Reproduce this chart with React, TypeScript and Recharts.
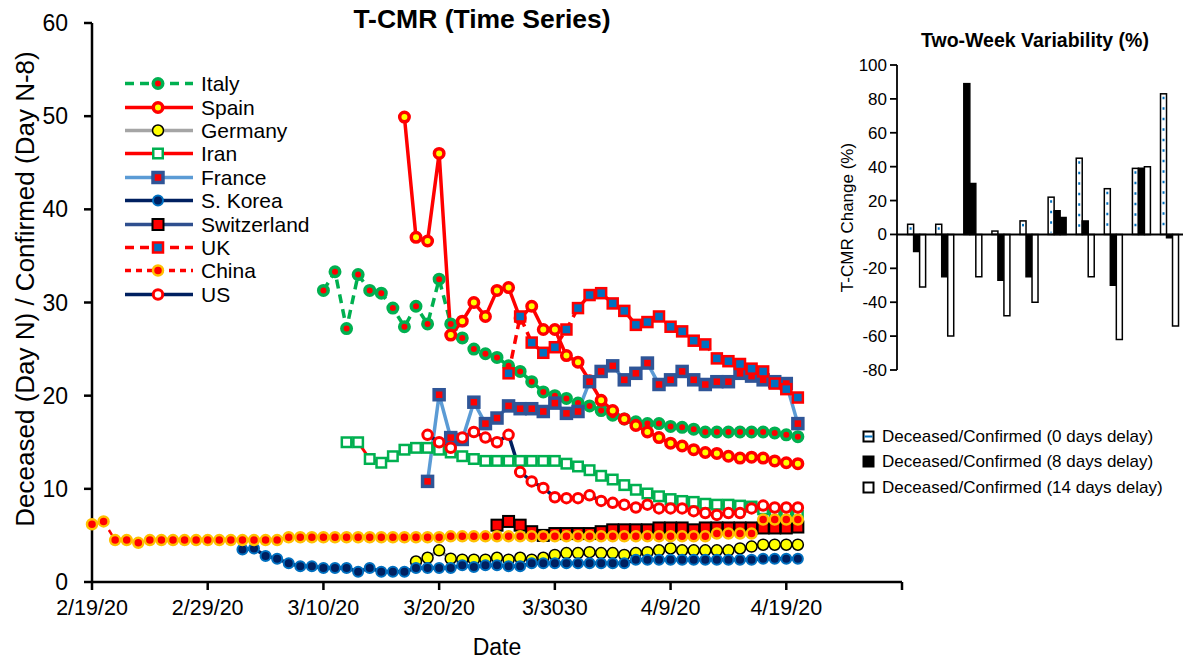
import React from 'react';
import { LineChart, Line, XAxis, YAxis, BarChart, Bar, Cell, ReferenceLine } from 'recharts';

const FONT = '"Liberation Sans", Arial, Helvetica, sans-serif';

// x axis: day index counted from 2/19/20
const dateTicks = [0, 10, 20, 30, 40, 50, 60, 70];
const dateLabels = ['2/19/20', '2/29/20', '3/10/20', '3/20/20', '3/3030', '4/9/20', '4/19/20', ''];
const rateTicks = [0, 10, 20, 30, 40, 50, 60];

// T-CMR values, one per day starting at the given day index
const italyStart = 20;
const italy = [31.3, 33.3, 27.2, 33.0, 31.3, 31.0, 29.4, 27.4, 29.6, 27.7, 32.5, 27.7, 26.2, 25.0, 24.5, 24.1, 23.2, 22.6, 21.5, 20.4, 20.0, 19.7, 19.2, 18.9, 18.4, 17.9, 17.5, 17.2, 17.0, 17.0, 16.7, 16.6, 16.4, 16.1, 16.1, 16.1, 16.1, 16.1, 16.1, 16.0, 15.8, 15.6];

const spainStart = 27;
const spain = [49.9, 37.0, 36.6, 46.0, 26.5, 28.0, 30.0, 28.5, 31.3, 31.6, 28.3, 29.6, 27.1, 27.1, 24.3, 23.6, 21.6, 19.5, 18.4, 17.5, 16.8, 16.1, 15.5, 14.9, 14.6, 14.2, 13.9, 13.8, 13.5, 13.3, 13.4, 13.3, 13.0, 12.8, 12.7];

const germanyStart = 28;
const germany = [2.2, 2.6, 3.4, 2.5, 2.4, 2.4, 2.4, 2.6, 2.4, 2.6, 2.4, 2.6, 2.9, 3.1, 3.1, 3.2, 3.1, 3.1, 2.9, 3.1, 3.2, 3.4, 3.6, 3.4, 3.4, 3.4, 3.4, 3.4, 3.6, 3.8, 4.0, 4.0, 4.0, 4.0];

const iranStart = 22;
const iran = [15.0, 15.0, 13.2, 12.8, 13.5, 14.2, 14.4, 14.4, 14.2, 13.9, 13.5, 13.2, 13.0, 13.0, 13.0, 13.0, 13.0, 13.0, 13.0, 12.7, 12.4, 12.0, 11.4, 11.0, 10.4, 9.9, 9.5, 9.2, 8.9, 8.7, 8.6, 8.4, 8.3, 8.3, 8.2, 8.1, 7.8, 7.5, 7.3, 7.1];

const franceStart = 29;
const france = [10.8, 20.1, 15.5, 15.3, 19.3, 17.0, 17.6, 18.9, 18.6, 18.6, 18.3, 19.2, 18.1, 18.3, 21.5, 22.6, 23.2, 21.7, 22.4, 23.5, 21.2, 21.7, 22.6, 21.7, 21.2, 21.5, 21.5, 22.4, 22.1, 21.7, 21.5, 21.3, 17.0];

const koreaStart = 13;
const korea = [3.5, 3.6, 2.8, 2.5, 2.0, 1.7, 1.7, 1.5, 1.5, 1.5, 1.1, 1.5, 1.1, 1.1, 1.1, 1.5, 1.5, 1.5, 1.5, 1.8, 1.6, 1.8, 1.8, 1.7, 1.7, 2.0, 2.0, 2.0, 2.0, 2.0, 2.0, 2.0, 2.0, 2.0, 2.4, 2.4, 2.4, 2.4, 2.4, 2.4, 2.4, 2.4, 2.4, 2.4, 2.4, 2.5, 2.5, 2.5, 2.5];

const swissStart = 35;
const swiss = [6.1, 6.5, 6.1, 5.4, 5.0, 5.2, 5.2, 5.2, 5.2, 5.4, 5.6, 5.6, 5.6, 5.6, 5.8, 5.8, 5.8, 5.6, 5.8, 5.8, 5.8, 5.8, 5.8, 5.8, 5.8, 5.8, 5.9];

const ukStart = 36;
const uk = [22.4, 28.5, 25.7, 24.6, 25.2, 27.1, 29.4, 30.8, 31.0, 29.9, 29.1, 27.6, 27.9, 28.5, 27.4, 26.9, 25.9, 25.5, 24.0, 23.7, 23.4, 22.9, 22.6, 21.3, 20.7, 19.8];

const chinaStart = 0;
const china = [6.2, 6.5, 4.5, 4.5, 4.2, 4.5, 4.5, 4.5, 4.5, 4.5, 4.5, 4.5, 4.5, 4.5, 4.5, 4.5, 4.5, 4.8, 4.8, 4.8, 4.8, 4.8, 4.8, 4.8, 4.8, 4.8, 4.8, 4.8, 4.8, 4.8, 4.8, 4.9, 4.9, 4.9, 4.9, 4.9, 4.9, 4.9, 4.9, 4.9, 4.9, 4.9, 4.9, 4.9, 4.9, 4.9, 4.9, 4.9, 4.9, 4.9, 4.9, 4.9, 4.9, 4.9, 5.2, 5.2, 5.2, 5.2, 6.7, 6.7, 6.7, 6.7];

const usStart = 29;
const us = [15.8, 15.0, 14.4, 15.5, 16.1, 15.5, 15.0, 15.8, 11.8, 10.8, 10.1, 9.1, 9.0, 9.0, 9.3, 8.7, 8.5, 8.3, 8.0, 8.3, 7.9, 7.9, 7.9, 7.6, 7.4, 7.2, 7.4, 7.4, 7.9, 8.2, 8.0, 8.0, 8.0];

// two-week variability (%) per group
const groups = ['Italy', 'Spain', 'Germany', 'Iran', 'France', 'S. Korea', 'Switzerland', 'UK', 'China', 'US'];
const change0 = [6, 6, 89, 2, 8, 22, 45, 27, 39, 83];
const change8 = [-10, -25, 30, -27, -25, 14, 8, -30, 39, -2];
const change14 = [-31, -60, -25, -48, -40, 10, -25, -62, 40, -54];
const changeTicks = [-80, -60, -40, -20, 0, 20, 40, 60, 80, 100];

type Marker = { shape: 'circle' | 'square'; size: number; fill: string; stroke: string; sw: number };
type Series = {
  key: string;
  name: string;
  start: number;
  values: number[];
  color: string;
  width: number;
  dash?: string;
  marker: Marker;
};

const GREEN = '#00B050';
const RED = '#FF0000';
const NAVY = '#002060';
const BLUE = '#0070C0';

const series: Series[] = [
  { key: 'italy', name: 'Italy', start: italyStart, values: italy, color: GREEN, width: 3.5, dash: '9 6', marker: { shape: 'circle', size: 9.5, fill: RED, stroke: GREEN, sw: 3.5 } },
  { key: 'spain', name: 'Spain', start: spainStart, values: spain, color: RED, width: 3.5, marker: { shape: 'circle', size: 9.5, fill: '#FFFF00', stroke: RED, sw: 3.5 } },
  { key: 'germany', name: 'Germany', start: germanyStart, values: germany, color: '#A5A5A5', width: 3.5, marker: { shape: 'circle', size: 11, fill: '#FFFF00', stroke: '#000', sw: 1.5 } },
  { key: 'iran', name: 'Iran', start: iranStart, values: iran, color: RED, width: 3, marker: { shape: 'square', size: 9.5, fill: '#fff', stroke: GREEN, sw: 2.5 } },
  { key: 'france', name: 'France', start: franceStart, values: france, color: '#5B9BD5', width: 3.5, marker: { shape: 'square', size: 10, fill: RED, stroke: '#2F5597', sw: 3.5 } },
  { key: 'korea', name: 'S. Korea', start: koreaStart, values: korea, color: NAVY, width: 3.5, marker: { shape: 'circle', size: 10, fill: NAVY, stroke: BLUE, sw: 2 } },
  { key: 'swiss', name: 'Switzerland', start: swissStart, values: swiss, color: '#2F4F8F', width: 3.5, marker: { shape: 'square', size: 11, fill: RED, stroke: '#000', sw: 2 } },
  { key: 'uk', name: 'UK', start: ukStart, values: uk, color: RED, width: 3.5, dash: '9 6', marker: { shape: 'square', size: 10, fill: BLUE, stroke: RED, sw: 2.5 } },
  { key: 'china', name: 'China', start: chinaStart, values: china, color: RED, width: 2.5, dash: '6 5', marker: { shape: 'circle', size: 10, fill: RED, stroke: '#FFC000', sw: 2.5 } },
  { key: 'us', name: 'US', start: usStart, values: us, color: NAVY, width: 3.5, marker: { shape: 'circle', size: 9.5, fill: '#fff', stroke: RED, sw: 3 } },
];

// one row per day for the line chart
const lastDay = Math.max(...series.map((s) => s.start + s.values.length - 1));
const lineRows: Record<string, number>[] = [];
for (let d = 0; d <= lastDay; d++) {
  const row: Record<string, number> = { day: d };
  series.forEach((s) => {
    const i = d - s.start;
    if (i >= 0 && i < s.values.length) row[s.key] = s.values[i];
  });
  lineRows.push(row);
}

const barRows = groups.map((g, i) => ({ group: g, d0: change0[i], d8: change8[i], d14: change14[i] }));
const solidZeroDay = [2]; // this 0-day bar is drawn solid black in the source
const solidFourteenDay = [5]; // and this 14-day bar too

const MarkerShape = ({ cx, cy, m }: { cx: number; cy: number; m: Marker }) =>
  m.shape === 'square' ? (
    <rect x={cx - m.size / 2} y={cy - m.size / 2} width={m.size} height={m.size} fill={m.fill} stroke={m.stroke} strokeWidth={m.sw} />
  ) : (
    <circle cx={cx} cy={cy} r={m.size / 2} fill={m.fill} stroke={m.stroke} strokeWidth={m.sw} />
  );

const makeDot = (m: Marker) => (props: any) => {
  const { cx, cy, index, value } = props;
  const k = `dot-${index}`;
  if (typeof cy !== 'number' || isNaN(cy) || value == null) return <g key={k} />;
  return (
    <g key={k}>
      <MarkerShape cx={cx} cy={cy} m={m} />
    </g>
  );
};

const PatternBar = (props: any) => {
  const { x, y, width, height, index } = props;
  const top = height < 0 ? y + height : y;
  const h = Math.abs(height);
  if (solidZeroDay.includes(index)) {
    return <rect x={x} y={top} width={width} height={h} fill="#000" stroke="#000" strokeWidth={1.5} />;
  }
  const cx = x + width / 2;
  return (
    <g>
      <rect x={x} y={top} width={width} height={h} fill="#fff" stroke="#000" strokeWidth={1.5} />
      {h > 6 && (
        <line x1={cx} x2={cx} y1={top + 3} y2={top + h - 2} stroke={BLUE} strokeWidth={2} strokeDasharray="2.5 8" />
      )}
    </g>
  );
};

const axisStyle = { stroke: '#000', strokeWidth: 2.5 };
const thinAxis = { stroke: '#000', strokeWidth: 1.8 };

const MainYLabel = () => (
  <text x={25} y={289} transform="rotate(-90 25 289)" textAnchor="middle" dominantBaseline="central" fill="#000" fontSize={26} fontFamily={FONT}>
    Deceased (Day N) / Confirmed (Day N-8)
  </text>
);

const MainLegend = () => (
  <div style={{ position: 'absolute', left: 125, top: 72, fontFamily: FONT, fontSize: 21, color: '#000' }}>
    {series.map((s) => (
      <div key={s.key} style={{ height: 23.4, display: 'flex', alignItems: 'center' }}>
        <svg width={76} height={23} style={{ flex: 'none' }}>
          <line x1={0} x2={68} y1={11.5} y2={11.5} stroke={s.key === 'iran' ? RED : s.color} strokeWidth={3.5} strokeDasharray={s.dash} />
          <MarkerShape cx={33} cy={11.5} m={s.marker} />
        </svg>
        <span style={{ lineHeight: '23px' }}>{s.name}</span>
      </div>
    ))}
  </div>
);

const barLegend = [
  { label: 'Deceased/Confirmed (0 days delay)', kind: 'pattern' },
  { label: 'Deceased/Confirmed (8 days delay)', kind: 'solid' },
  { label: 'Deceased/Confirmed (14 days delay)', kind: 'hollow' },
];

const BarLegend = () => (
  <div style={{ position: 'absolute', left: 862, top: 424, fontFamily: FONT, fontSize: 17, color: '#000' }}>
    {barLegend.map((b) => (
      <div key={b.label} style={{ height: 25.5, display: 'flex', alignItems: 'center' }}>
        <svg width={20} height={14} style={{ flex: 'none' }}>
          <rect x={1.5} y={1.5} width={10} height={10} fill={b.kind === 'solid' ? '#000' : '#fff'} stroke="#000" strokeWidth={2} />
          {b.kind === 'pattern' && <line x1={2.5} x2={10.5} y1={6.5} y2={6.5} stroke={BLUE} strokeWidth={2} />}
        </svg>
        <span>{b.label}</span>
      </div>
    ))}
  </div>
);

export default function App() {
  return (
    <div style={{ position: 'absolute', left: 0, top: 0, width: 1184, height: 660, background: '#fff', fontFamily: FONT, overflow: 'hidden' }}>
      <div style={{ position: 'absolute', left: 232, width: 500, top: 4, textAlign: 'center', fontWeight: 'bold', fontSize: 26.5 }}>
        T-CMR (Time Series)
      </div>
      <div style={{ position: 'absolute', left: 0, top: 0 }}>
        <LineChart width={910} height={660} data={lineRows} margin={{ top: 23, right: 8, bottom: 0, left: 0 }}>
          <XAxis
            type="number"
            dataKey="day"
            domain={[0, 70]}
            ticks={dateTicks}
            interval={0}
            tickFormatter={(v: number) => dateLabels[dateTicks.indexOf(v)] ?? ''}
            height={78}
            tickSize={8}
            tickMargin={10}
            axisLine={axisStyle}
            tickLine={axisStyle}
            tick={{ fill: '#000', fontSize: 21.5, fontFamily: FONT }}
            label={{ value: 'Date', position: 'insideBottom', offset: 5, style: { fill: '#000', fontSize: 23, fontFamily: FONT } }}
          />
          <YAxis
            type="number"
            domain={[0, 60]}
            ticks={rateTicks}
            interval={0}
            width={92}
            tickSize={8}
            tickMargin={16}
            axisLine={axisStyle}
            tickLine={axisStyle}
            tick={{ fill: '#000', fontSize: 23, fontFamily: FONT }}
            label={{ content: () => <MainYLabel /> }}
          />
          {series.map((s) => (
            <Line
              key={s.key}
              type="linear"
              dataKey={s.key}
              name={s.name}
              stroke={s.color}
              strokeWidth={s.width}
              strokeDasharray={s.dash}
              dot={makeDot(s.marker)}
              activeDot={false}
              isAnimationActive={false}
            />
          ))}
        </LineChart>
      </div>
      <MainLegend />

      <div style={{ position: 'absolute', left: 835, width: 400, top: 29, textAlign: 'center', fontWeight: 'bold', fontSize: 19.5 }}>
        Two-Week Variability (%)
      </div>
      <div style={{ position: 'absolute', left: 820, top: 0 }}>
        <BarChart width={364} height={400} data={barRows} margin={{ top: 65, right: 1, bottom: 30, left: 17 }} barCategoryGap="20%" barGap={0}>
          <XAxis dataKey="group" hide padding={{ left: 5, right: 0 }} />
          <YAxis
            domain={[-80, 100]}
            ticks={changeTicks}
            interval={0}
            width={60}
            tickSize={7}
            tickMargin={3}
            axisLine={thinAxis}
            tickLine={thinAxis}
            tick={{ fill: '#000', fontSize: 17, fontFamily: FONT }}
            label={{
              value: 'T-CMR Change (%)',
              angle: -90,
              position: 'insideLeft',
              offset: 10,
              style: { textAnchor: 'middle', fill: '#000', fontSize: 17, fontFamily: FONT },
            }}
          />
          <Bar dataKey="d0" shape={PatternBar} isAnimationActive={false} />
          <Bar dataKey="d8" fill="#000" stroke="#000" strokeWidth={1.5} isAnimationActive={false} />
          <Bar dataKey="d14" stroke="#000" strokeWidth={1.5} isAnimationActive={false}>
            {barRows.map((r, i) => (
              <Cell key={r.group} fill={solidFourteenDay.includes(i) ? '#000' : '#fff'} />
            ))}
          </Bar>
          <ReferenceLine y={0} stroke="#000" strokeWidth={2} ifOverflow="extendDomain" />
        </BarChart>
      </div>
      <BarLegend />
    </div>
  );
}
